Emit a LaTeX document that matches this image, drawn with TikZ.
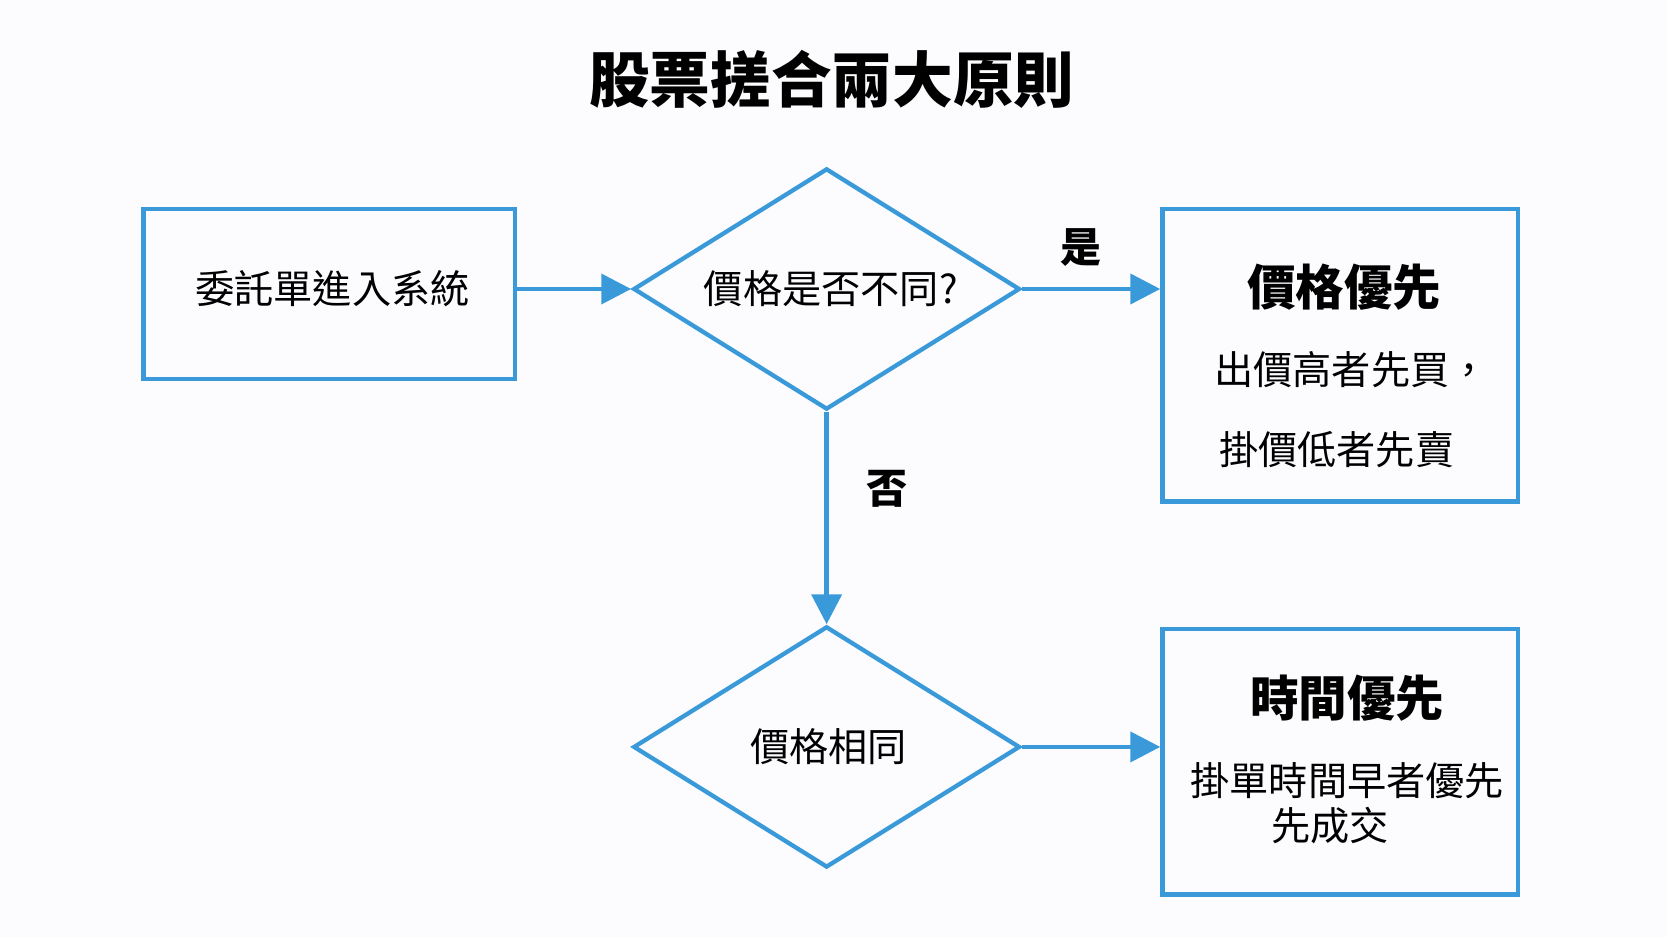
\documentclass[tikz,border=0pt]{standalone}
\usepackage{fontspec}
\setmainfont{Noto Sans CJK TC}
\usetikzlibrary{shapes.geometric,arrows.meta}
\definecolor{bl}{HTML}{3A9AD9}
\begin{document}
\begin{tikzpicture}[x=0.02cm,y=-0.02cm,
 box/.style={draw=bl,line width=2.3pt,inner sep=0pt,anchor=north west},
 dia/.style={diamond,draw=bl,line width=2.3pt,inner sep=0pt,minimum width=7.28cm,minimum height=4.54cm},
 arr/.style={draw=bl,line width=2.3pt,-{Triangle[length=16pt,width=16pt]}},
 txt/.style={font=\fontsize{21}{25}\selectfont},
 hd/.style={font=\fontsize{26}{30}\selectfont\bfseries}]
\fill[white!96!blue!30!white] (0,0) rectangle (1568,882);
\useasboundingbox (0,0) rectangle (1568,882);
\node[font=\fontsize{32.5}{36}\selectfont\bfseries] (title) at (783,75) {股票搓合兩大原則};
\node[box,minimum width=7cm,minimum height=3.2cm] (b1) at (133,195) {};
\node[txt] (t1) at (313,272) {委託單進入系統};
\node[dia] (d1) at (778,272) {};
\node[txt] (t2) at (782,272) {價格是否不同?};
\node[box,minimum width=6.7cm,minimum height=5.5cm] (b2) at (1092,195) {};
\node[hd] (h2) at (1265,270) {價格優先};
\node[txt] (a2) at (1272,348) {出價高者先買，};
\node[txt] (c2) at (1258,423) {掛價低者先賣};
\node[dia] (d2) at (778,703) {};
\node[txt] (t3) at (780,703) {價格相同};
\node[box,minimum width=6.7cm,minimum height=5cm] (b3) at (1092,590) {};
\node[hd] (h3) at (1268,657) {時間優先};
\node[txt] (a3) at (1268,735) {掛單時間早者優先};
\node[txt] (c3) at (1252,777) {先成交};
\draw[arr] (b1.east |- d1.west) -- (d1.west);
\draw[arr] (d1.east) -- (b2.west |- d1.east);
\node[font=\fontsize{22}{26}\selectfont\bfseries] (yes) at (1017,233) {是};
\draw[arr] (d1.south) -- (d2.north);
\node[font=\fontsize{22}{26}\selectfont\bfseries] (no) at (835,460) {否};
\draw[arr] (d2.east) -- (b3.west |- d2.east);
\end{tikzpicture}
\end{document}
